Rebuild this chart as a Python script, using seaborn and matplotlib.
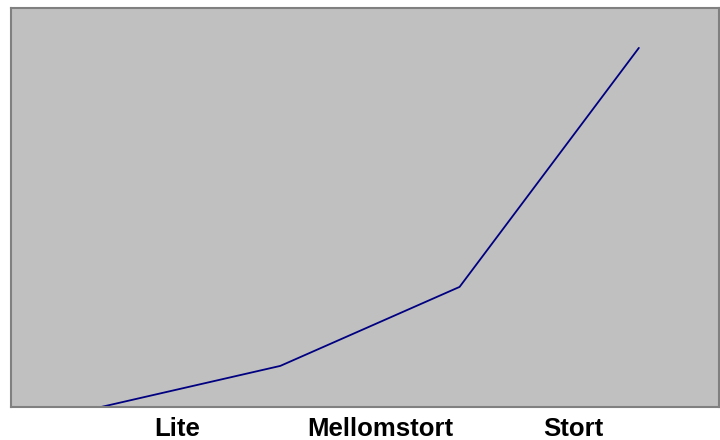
import matplotlib
matplotlib.use("Agg")
import matplotlib.pyplot as plt
import seaborn as sns
import pandas as pd

# data
point_index = [0, 1, 2, 3]
values = [0, 10.3, 30.1, 90.0]
tick_labels = ["Lite", "Mellomstort", "Stort"]

sns.set_style("white")
plt.rcParams['font.family'] = ['Liberation Sans', 'DejaVu Sans']

df = pd.DataFrame({"x": point_index, "y": values})

fig = plt.figure(figsize=(7.2, 4.4), dpi=100)
ax = fig.add_axes([11/720, 33/440, 708/720, 399/440])
ax.set_facecolor("#C0C0C0")
sns.lineplot(data=df, x="x", y="y", ax=ax, color="#000080", linewidth=1.3)

ax.set_xlim(-0.502, 3.447)
ax.set_ylim(0, 100)
ax.set_xticks([0.424, 1.556, 2.632])
ax.set_xticklabels(tick_labels, fontsize=18.5, fontweight="bold", color="black")
ax.tick_params(axis="x", length=0, pad=7.5)
ax.set_yticks([])
ax.set_xlabel("")
ax.set_ylabel("")
for s in ax.spines.values():
    s.set_color("#808080")
    s.set_linewidth(1.5)

fig.savefig("out.png", dpi=100)
